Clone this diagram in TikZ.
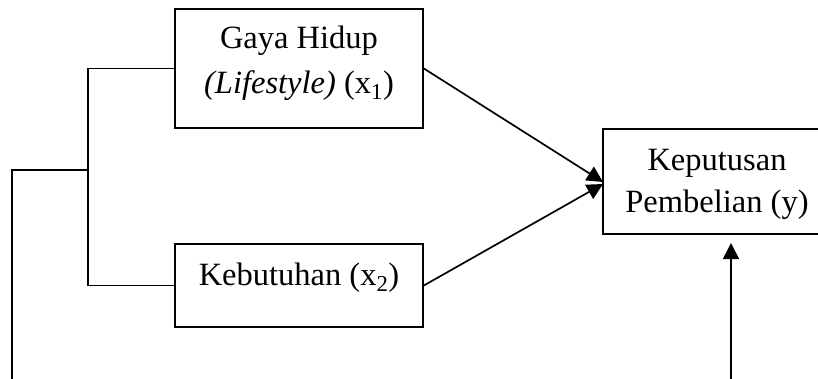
\documentclass[tikz,border=0pt]{standalone}
\usepackage{fontspec}
\setmainfont{Liberation Serif}
\usetikzlibrary{arrows.meta}
\tikzset{
  box/.style={draw, line width=1.7pt, inner sep=0pt, minimum width=248pt},
  lbl/.style={anchor=base, inner sep=0pt, font=\fontsize{32.5}{40}\selectfont},
  conn/.style={line width=1.7pt},
  arr/.style={line width=1.7pt, -{Triangle[length=16pt,width=16pt]}}
}
\begin{document}
\begin{tikzpicture}[x=1pt,y=-1pt]
\useasboundingbox (0,0) rectangle (818,378);
\clip (0,0) rectangle (818,378);
% boxes
\node[box, minimum height=119pt] (b1) at (299,68.5) {};
\node[box, minimum height=83pt] (b2) at (299,285.5) {};
\node[box, minimum width=300pt, minimum height=105pt] (b3) at (753,181.5) {};
% labels
\node[lbl] (t1a) at (299,48) {Gaya Hidup};
\node[lbl] (t1b) at (299,93) {\textit{(Lifestyle)} (x\textsubscript{1})};
\node[lbl] (t2) at (299,285) {Kebutuhan (x\textsubscript{2})};
\node[lbl] (t3a) at (717,170) {Keputusan};
\node[lbl] (t3b) at (717,212) {Pembelian (y)};
% bracket coordinates
\coordinate (jt) at (88,68.5);
\coordinate (jb) at (88,285.5);
\coordinate (jm) at (88,170);
\coordinate (lt) at (12,170);
\coordinate (lb) at (12,380);
\coordinate (ub) at (731,380);
\coordinate (ut) at (731,243);
\coordinate (a1) at (603,182);
\coordinate (a2) at (603,184);
% connectors
\draw[conn] (b1.west) -- (jt) -- (jb) -- (b2.west);
\draw[conn] (jm) -- (lt) -- (lb);
\draw[arr] (b1.east) -- (a1);
\draw[arr] (b2.east) -- (a2);
\draw[arr] (ub) -- (ut);
\end{tikzpicture}
\end{document}
